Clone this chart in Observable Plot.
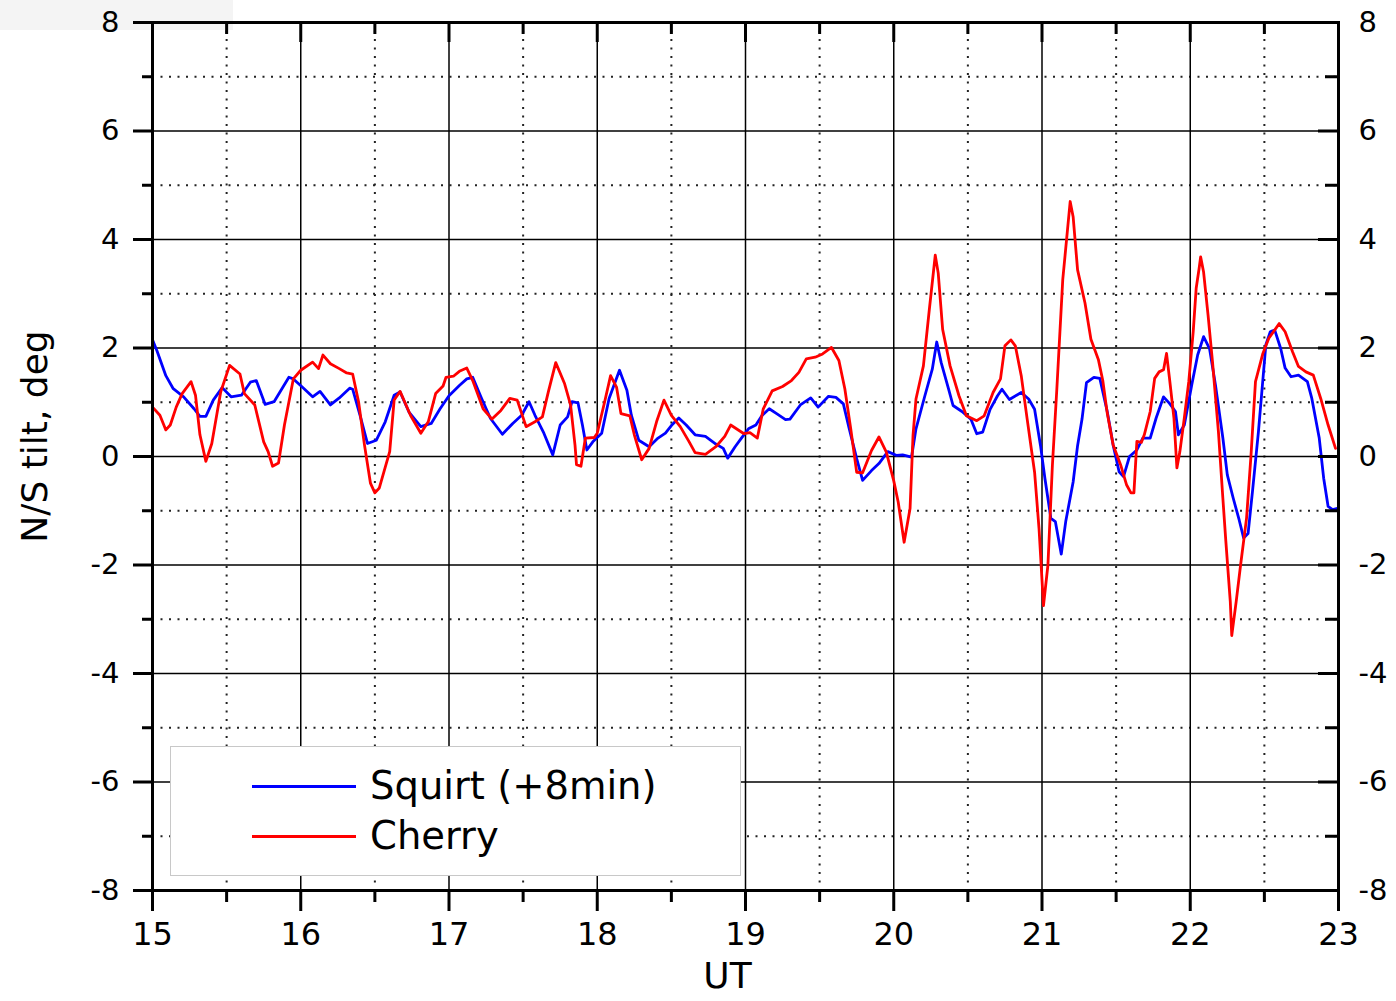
<!DOCTYPE html>
<html><head><meta charset="utf-8">
<script src="https://cdn.jsdelivr.net/npm/d3@7"></script>
<script src="https://cdn.jsdelivr.net/npm/@observablehq/plot@0.6"></script>
<style>
body{margin:0;background:#fff;}
#wrap{position:relative;width:1396px;height:1001px;overflow:hidden;font-family:"DejaVu Sans";}
#corner{position:absolute;left:0;top:0;width:233px;height:30px;background:#f4f4f4;}
#chart{position:absolute;left:0;top:0;}
#legend{position:absolute;left:170px;top:746px;width:571px;height:130px;border:1.5px solid #c8c8c8;background:#fff;box-sizing:border-box;}
.item{position:absolute;left:81px;height:40px;display:flex;align-items:center;}
.sw{width:104px;height:3px;margin-right:14px;}
.lbl{font-size:38.5px;color:#000;line-height:40px;}
</style>
</head><body>
<div id="wrap"><div id="corner"></div><div id="chart"></div>
<div id="legend">
<div class="item" style="top:19px"><div class="sw" style="background:#0000ff"></div><span class="lbl">Squirt (+8min)</span></div>
<div class="item" style="top:69px"><div class="sw" style="background:#ff0000"></div><span class="lbl">Cherry</span></div>
</div></div>
<script>
const xMajor = [15,16,17,18,19,20,21,22,23];
const xMinor = [15.5,16.5,17.5,18.5,19.5,20.5,21.5,22.5];
const yMajor = [-8,-6,-4,-2,0,2,4,6,8];
const yMinor = [-7,-5,-3,-1,1,3,5,7];

const squirtT = [15.00,15.03,15.09,15.14,15.21,15.28,15.32,15.36,15.41,15.47,15.53,15.60,15.66,15.70,15.76,15.82,15.92,15.95,16.01,16.08,16.13,16.20,16.26,16.33,16.35,16.40,16.45,16.51,16.57,16.63,16.67,16.73,16.81,16.88,16.94,17.00,17.07,17.12,17.16,17.22,17.28,17.36,17.43,17.49,17.54,17.58,17.64,17.70,17.75,17.80,17.83,17.87,17.90,17.93,17.97,18.03,18.08,18.15,18.20,18.23,18.28,18.35,18.41,18.46,18.50,18.55,18.60,18.66,18.73,18.80,18.85,18.88,18.93,18.97,19.02,19.07,19.11,19.16,19.21,19.27,19.30,19.37,19.44,19.49,19.56,19.61,19.66,19.70,19.75,19.79,19.85,19.90,19.96,20.02,20.06,20.12,20.15,20.21,20.26,20.29,20.32,20.37,20.40,20.46,20.52,20.56,20.60,20.65,20.70,20.73,20.78,20.86,20.91,20.95,20.99,21.02,21.06,21.09,21.13,21.16,21.21,21.24,21.27,21.30,21.35,21.39,21.44,21.48,21.52,21.55,21.59,21.64,21.68,21.73,21.77,21.82,21.86,21.90,21.92,21.96,22.01,22.05,22.09,22.13,22.17,22.22,22.25,22.29,22.33,22.36,22.39,22.42,22.46,22.51,22.54,22.57,22.61,22.64,22.68,22.73,22.79,22.82,22.87,22.90,22.93,22.96,23.00];
const squirtV = [2.15,1.95,1.49,1.25,1.10,0.88,0.74,0.74,1.04,1.27,1.10,1.13,1.37,1.40,0.96,1.01,1.46,1.43,1.28,1.10,1.20,0.95,1.08,1.26,1.24,0.76,0.24,0.30,0.64,1.13,1.19,0.82,0.55,0.61,0.88,1.12,1.31,1.43,1.46,1.07,0.70,0.41,0.61,0.76,1.01,0.76,0.43,0.03,0.58,0.73,1.01,0.99,0.58,0.12,0.27,0.43,1.07,1.59,1.22,0.76,0.30,0.18,0.34,0.43,0.57,0.71,0.58,0.40,0.37,0.23,0.15,-0.03,0.18,0.33,0.51,0.58,0.75,0.88,0.79,0.68,0.69,0.95,1.08,0.91,1.11,1.09,0.97,0.51,-0.04,-0.44,-0.26,-0.13,0.09,0.02,0.03,-0.01,0.51,1.12,1.61,2.11,1.73,1.24,0.94,0.83,0.69,0.42,0.45,0.87,1.12,1.24,1.05,1.18,1.06,0.87,0.20,-0.41,-1.14,-1.20,-1.80,-1.20,-0.47,0.20,0.69,1.36,1.46,1.44,0.83,0.21,-0.28,-0.37,0.00,0.12,0.34,0.34,0.71,1.10,0.98,0.83,0.40,0.58,1.32,1.87,2.21,1.99,1.32,0.34,-0.34,-0.77,-1.17,-1.50,-1.42,-0.64,0.46,2.06,2.30,2.33,1.99,1.63,1.47,1.50,1.38,1.07,0.34,-0.40,-0.92,-0.98,-0.95];

const cherryT = [15.00,15.05,15.09,15.12,15.16,15.20,15.26,15.29,15.32,15.36,15.40,15.46,15.52,15.59,15.62,15.69,15.75,15.78,15.81,15.85,15.89,15.95,16.00,16.08,16.12,16.15,16.20,16.26,16.31,16.35,16.39,16.43,16.47,16.50,16.53,16.60,16.63,16.67,16.74,16.81,16.86,16.91,16.96,16.98,17.03,17.07,17.12,17.16,17.23,17.29,17.35,17.41,17.46,17.52,17.58,17.63,17.67,17.72,17.78,17.82,17.85,17.86,17.89,17.92,17.98,18.00,18.05,18.09,18.13,18.16,18.22,18.25,18.30,18.35,18.40,18.45,18.50,18.56,18.62,18.66,18.73,18.80,18.86,18.90,18.99,19.03,19.08,19.12,19.18,19.25,19.31,19.36,19.41,19.47,19.52,19.58,19.63,19.67,19.71,19.75,19.79,19.85,19.90,19.95,20.00,20.03,20.07,20.11,20.13,20.15,20.20,20.24,20.28,20.30,20.33,20.38,20.44,20.49,20.56,20.61,20.67,20.72,20.75,20.79,20.82,20.86,20.90,20.95,20.98,21.01,21.04,21.07,21.10,21.14,21.17,21.19,21.21,21.24,21.29,21.33,21.38,21.41,21.44,21.48,21.53,21.57,21.60,21.62,21.64,21.67,21.69,21.73,21.76,21.79,21.82,21.84,21.86,21.89,21.91,21.93,21.96,21.99,22.02,22.04,22.06,22.07,22.09,22.12,22.15,22.19,22.22,22.24,22.27,22.28,22.31,22.34,22.38,22.41,22.44,22.49,22.53,22.60,22.64,22.69,22.73,22.78,22.83,22.88,22.93,22.98];
const cherryV = [0.91,0.76,0.49,0.58,0.91,1.16,1.38,1.13,0.40,-0.09,0.24,1.19,1.68,1.52,1.16,0.95,0.27,0.09,-0.18,-0.12,0.58,1.43,1.59,1.74,1.62,1.87,1.71,1.62,1.54,1.52,1.01,0.21,-0.49,-0.67,-0.58,0.09,1.04,1.20,0.76,0.43,0.64,1.16,1.30,1.46,1.48,1.57,1.63,1.40,0.88,0.69,0.85,1.07,1.04,0.55,0.64,0.73,1.19,1.73,1.34,0.95,0.21,-0.15,-0.18,0.34,0.35,0.43,1.01,1.49,1.28,0.79,0.75,0.40,-0.06,0.15,0.64,1.04,0.76,0.55,0.27,0.07,0.04,0.18,0.37,0.58,0.42,0.44,0.34,0.88,1.21,1.29,1.40,1.55,1.80,1.83,1.89,2.01,1.77,1.25,0.51,-0.29,-0.30,0.11,0.36,0.08,-0.45,-0.84,-1.58,-0.96,0.39,1.06,1.67,2.71,3.71,3.38,2.34,1.67,1.12,0.75,0.66,0.75,1.18,1.43,2.04,2.15,2.04,1.49,0.69,-0.29,-1.33,-2.75,-2.00,-0.17,1.24,3.26,4.12,4.70,4.42,3.44,2.83,2.16,1.79,1.40,0.80,0.21,-0.15,-0.52,-0.67,-0.67,0.28,0.26,0.40,0.83,1.44,1.56,1.60,1.90,1.44,0.71,-0.21,0.09,0.71,1.38,2.30,3.10,3.47,3.68,3.40,2.61,1.75,0.46,-0.77,-1.56,-2.67,-3.30,-2.67,-1.99,-1.13,0.03,1.38,1.90,2.18,2.45,2.30,1.93,1.66,1.56,1.50,1.07,0.58,0.15];

const squirt = squirtT.map((t, i) => ({t, v: squirtV[i]}));
const cherry = cherryT.map((t, i) => ({t, v: cherryV[i]}));

const fmt = d => String(d);
const dots = {stroke: "#222", strokeOpacity: 1, strokeWidth: 2, strokeDasharray: "2,6.5"};
const solid = {stroke: "#000", strokeOpacity: 1, strokeWidth: 1.5};

const chart = Plot.plot({
  width: 1396, height: 1001,
  marginLeft: 152, marginRight: 58, marginTop: 22, marginBottom: 111,
  x: {domain: [15, 23]},
  y: {domain: [-8, 8]},
  style: {fontFamily: "DejaVu Sans", background: "transparent", color: "#000", overflow: "visible"},
  marks: [
    Plot.gridX(xMinor, dots),
    Plot.gridY(yMinor, dots),
    Plot.gridX(xMajor, solid),
    Plot.gridY(yMajor, solid),
    Plot.line(squirt, {x: "t", y: "v", stroke: "#0000ff", strokeWidth: 2.8}),
    Plot.line(cherry, {x: "t", y: "v", stroke: "#ff0000", strokeWidth: 2.8}),
    Plot.frame({stroke: "#000", strokeWidth: 3}),
    Plot.axisX(xMajor, {anchor: "bottom", tickSize: 21, tickPadding: 11, tickFormat: fmt, fontSize: 32, strokeWidth: 3, label: null}),
    Plot.axisX(xMinor, {anchor: "bottom", tickSize: 12, tickFormat: () => "", strokeWidth: 3, label: null}),
    Plot.axisY(yMajor, {anchor: "left", tickSize: 19, tickPadding: 14, tickFormat: fmt, fontSize: 29, strokeWidth: 3, label: null}),
    Plot.axisY(yMinor, {anchor: "left", tickSize: 10, tickFormat: () => "", strokeWidth: 3, label: null}),
    Plot.axisY(yMajor, {anchor: "right", tickSize: 0, tickPadding: 20, tickFormat: fmt, fontSize: 29, label: null}),
    Plot.tickY(yMajor, {y: d => d, insetLeft: 1166, stroke: "#000", strokeWidth: 3}),
    Plot.tickY(yMinor, {y: d => d, insetLeft: 1173, stroke: "#000", strokeWidth: 3}),
    Plot.tickX(xMajor, {x: d => d, insetBottom: 848, stroke: "#000", strokeWidth: 3}),
    Plot.tickX(xMinor, {x: d => d, insetBottom: 856, stroke: "#000", strokeWidth: 3}),
    Plot.text(["UT"], {text: d => d, frameAnchor: "bottom", dx: -18, dy: 97, fontSize: 36}),
    Plot.text(["N/S tilt, deg"], {text: d => d, frameAnchor: "left", textAnchor: "middle", dx: -117, dy: -20, rotate: -90, fontSize: 36})
  ]
});
document.getElementById("chart").appendChild(chart);
</script>
</body></html>
